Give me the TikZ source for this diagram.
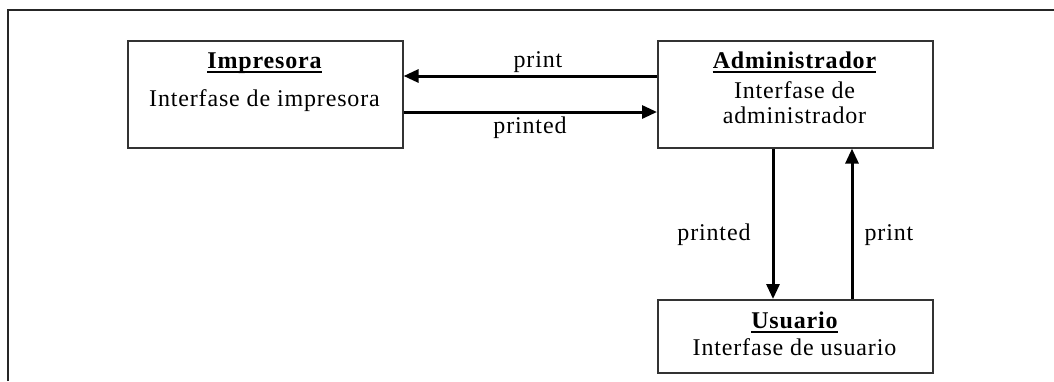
\documentclass[tikz,border=0pt]{standalone}
\usepackage{fontspec}
\setmainfont{Liberation Serif}[LetterSpace=3.5]
\usetikzlibrary{arrows.meta}
\tikzset{
  boxnode/.style={draw=black!80, line width=1.6pt, anchor=north west, inner sep=0pt},
  titletext/.style={font=\fontsize{24}{28}\selectfont\bfseries, inner sep=0pt, anchor=base},
  subtext/.style={font=\fontsize{24}{28}\selectfont, inner sep=0pt, anchor=base},
  lbl/.style={font=\fontsize{24}{28}\selectfont, inner sep=0pt, anchor=base},
  arr/.style={line width=3pt, -{Triangle[length=15pt,width=13pt]}},
  uline/.style={line width=1.8pt}
}
\begin{document}
\begin{tikzpicture}[x=1pt,y=-1pt]
\useasboundingbox (0,0) rectangle (1054,381);
\fill[white] (0,0) rectangle (1054,381);
\draw[line width=2pt, black!85] (8,381) -- (8,10) -- (1054,10);

% boxes
\node[boxnode, minimum width=275pt, minimum height=107pt] (imp) at (127,40) {};
\node[boxnode, minimum width=275pt, minimum height=107pt] (adm) at (657,40) {};
\node[boxnode, minimum width=275pt, minimum height=73pt] (usu) at (657,299) {};

% texts
\node[titletext] (impT) at (264.5,68) {Impresora};
\node[subtext] (impS) at (264.5,106) {Interfase de impresora};
\node[titletext] (admT) at (794.5,68) {Administrador};
\node[subtext] (admS1) at (794.5,98) {Interfase de};
\node[subtext] (admS2) at (794.5,123) {administrador};
\node[titletext] (usuT) at (794.5,328) {Usuario};
\node[subtext] (usuS) at (794.5,355) {Interfase de usuario};

% underlines
\draw[uline] ([yshift=-4pt]impT.base west) -- ([yshift=-4pt]impT.base east);
\draw[uline] ([yshift=-4pt]admT.base west) -- ([yshift=-4pt]admT.base east);
\draw[uline] ([yshift=-4pt]usuT.base west) -- ([yshift=-4pt]usuT.base east);

% connector levels
\coordinate (yprint) at (0,76);
\coordinate (yprinted) at (0,112);
\coordinate (xdown) at (773,0);
\coordinate (xup) at (852,0);

\draw[arr] (adm.west |- yprint) -- (imp.east |- yprint);
\draw[arr] (imp.east |- yprinted) -- (adm.west |- yprinted);
\draw[arr] (adm.south -| xdown) -- (usu.north -| xdown);
\draw[arr] (usu.north -| xup) -- (adm.south -| xup);

% labels
\node[lbl] (l1) at (538,67) {print};
\node[lbl] (l2) at (530,133) {printed};
\node[lbl] (l3) at (714,240) {printed};
\node[lbl] (l4) at (889,240) {print};
\end{tikzpicture}
\end{document}
